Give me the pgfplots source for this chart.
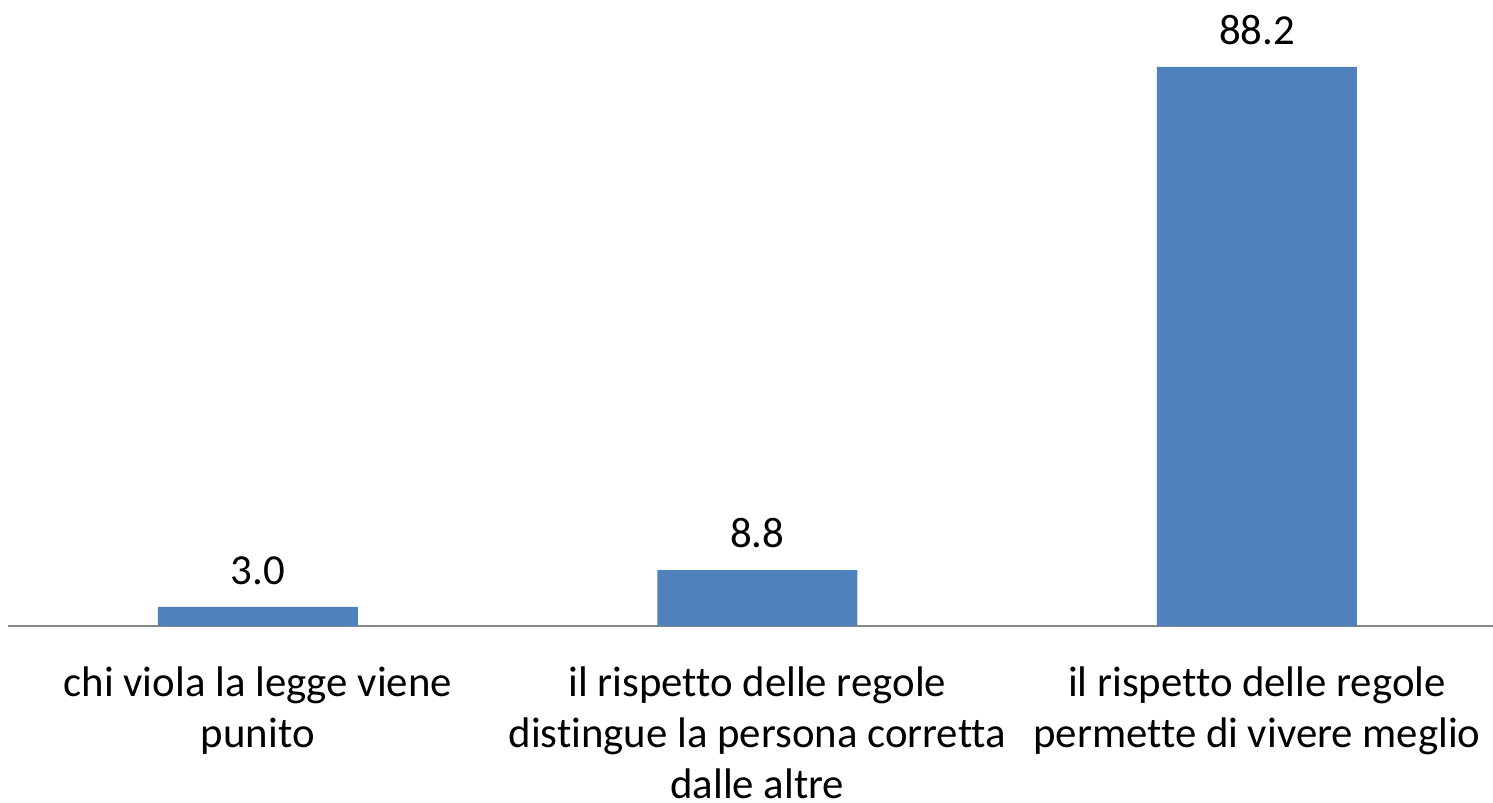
\documentclass[border=0pt]{standalone}
\usepackage{pgfplots}
\pgfplotsset{compat=1.18}
\usepackage{fontspec}
\setmainfont{Carlito}[Ligatures=CommonOff]
\definecolor{barblue}{HTML}{4F81BD}
\definecolor{axgray}{HTML}{878787}
\begin{document}
\begin{tikzpicture}
\begin{axis}[
  scale only axis,
  width=742.5pt, height=313pt,
  xmin=-0.5, xmax=2.4725, ymin=0, ymax=98.74,
  enlargelimits=false,
  axis x line=bottom,
  hide y axis,
  x axis line style={-, draw=axgray, line width=1.2pt},
  xtick={0,1,2},
  xticklabels={{chi viola la legge viene\\punito},{il rispetto delle regole\\distingue la persona corretta\\dalle altre},{il rispetto delle regole\\permette di vivere meglio}},
  major tick length=0pt,
  xticklabel style={align=center, inner sep=0pt, anchor=north, yshift=-20pt, font=\fontsize{21.4}{25.5}\selectfont},
  ybar, bar width=100pt,
  nodes near coords,
  nodes near coords style={inner sep=0pt, yshift=11pt, font=\fontsize{21.4}{25.5}\selectfont},
  every node near coord/.append style={/pgf/number format/fixed, /pgf/number format/fixed zerofill, /pgf/number format/precision=1, /pgf/number format/assume math mode=true},
  clip=false,
]
\addplot[fill=barblue, draw=none] coordinates {(0,3.0) (1,8.8) (2,88.2)};
\coordinate (bl) at (rel axis cs:0,0);
\coordinate (tr) at (rel axis cs:1,1);
\end{axis}
\pgfresetboundingbox
\path ([xshift=-4pt,yshift=-88pt]bl) rectangle (tr);
\end{tikzpicture}
\end{document}
